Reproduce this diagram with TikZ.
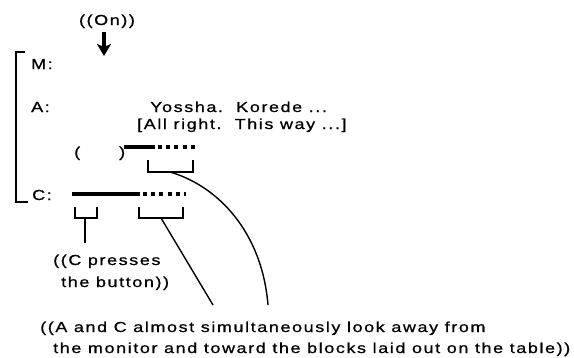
\documentclass[tikz,border=0pt]{standalone}
\usepackage{fontspec}
\setmainfont{Liberation Sans}[FakeStretch=1.24,LetterSpace=11,FakeBold=0.8]
\usetikzlibrary{arrows.meta}
\begin{document}
\begin{tikzpicture}[x=1pt,y=-1pt,
  txt/.style={inner sep=0pt,anchor=base west,font=\fontsize{14.5}{17}\selectfont},
  brk/.style={line width=1.6pt},
  thick line/.style={line width=3.6pt},
  dotline/.style={line width=3.8pt,dash pattern=on 4pt off 4.2pt},
  lead/.style={line width=1.4pt}]
\useasboundingbox (0,0) rectangle (574,357);
% top label and arrow
\node[txt,anchor=base] (on) at (107,25) {((On))};
\coordinate (arrtop) at (104,32);
\coordinate (arrbot) at (104,56);
\draw[line width=3.2pt,-{Stealth[length=12pt,width=14pt,inset=3pt]}] (arrtop) -- (arrbot);
% left bracket
\coordinate (lb1) at (25,52);
\coordinate (lb2) at (16,52);
\coordinate (lb3) at (16,202);
\coordinate (lb4) at (28,202);
\draw[line width=2.6pt] (lb1) -- (lb2) -- (lb3) -- (lb4);
% speakers
\node[txt] (M) at (31,69) {M:};
\node[txt] (A) at (31,112) {A:};
\node[txt] (C) at (32,200) {C:};
% utterance
\node[txt] (yos) at (150,112) {Yossha.\ \ Korede ...};
\node[txt] (tr) at (137,129) {[All right.\ \ This way ...]};
% A timeline
\node[txt] (lp) at (74,157) {(};
\node[txt] (rp) at (119,157) {)};
\coordinate (a1) at (124,147);
\coordinate (a2) at (155,147);
\coordinate (a3) at (198,147);
\draw[thick line] (a1) -- (a2);
\draw[dotline] (a2) ++(3,0) coordinate (a2d) (a2d) -- (a3);
% A bracket
\coordinate (ab1) at (148,160);
\coordinate (ab2) at (148,172);
\coordinate (ab3) at (193,172);
\coordinate (ab4) at (193,160);
\draw[brk] (ab1) -- (ab2) -- (ab3) -- (ab4);
% C timeline
\coordinate (c1) at (72,194);
\coordinate (c2) at (140,194);
\coordinate (c3) at (186,194);
\draw[thick line] (c1) -- (c2);
\draw[dotline] (c2) ++(3,0) coordinate (c2d) (c2d) -- (c3);
% C brackets
\coordinate (cb1) at (75,207);
\coordinate (cb2) at (75,218);
\coordinate (cb3) at (97,218);
\coordinate (cb4) at (97,207);
\draw[brk] (cb1) -- (cb2) -- (cb3) -- (cb4);
\coordinate (cd1) at (139,207);
\coordinate (cd2) at (139,218);
\coordinate (cd3) at (183,218);
\coordinate (cd4) at (183,207);
\draw[brk] (cd1) -- (cd2) -- (cd3) -- (cd4);
% notes
\node[txt] (press1) at (53,265) {((C presses};
\node[txt] (press2) at (61,287) {the button))};
\coordinate (stemtop) at (85,218);
\coordinate (stembot) at (85,243);
\draw[lead] (stemtop) -- (stembot);
\node[txt] (look1) at (40,332) {((A and C almost simultaneously look away from};
\node[txt] (look2) at (53,353) {the monitor and toward the blocks laid out on the table))};
\coordinate (l1s) at (161,218);
\coordinate (l1e) at (213,305);
\draw[lead] (l1s) -- (l1e);
\coordinate (l2s) at (170,172);
\coordinate (l2e) at (268,305);
\draw[lead] (l2s) .. controls (218,186) and (262,232) .. (l2e);
\end{tikzpicture}
\end{document}
